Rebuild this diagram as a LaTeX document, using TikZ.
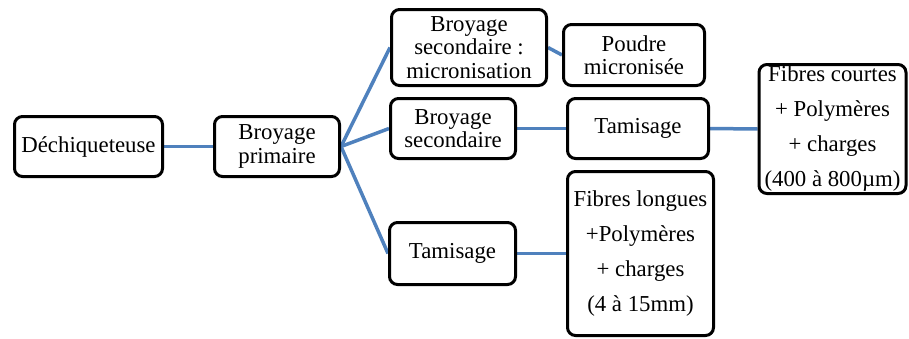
\documentclass[tikz,border=0pt]{standalone}
\usepackage{fontspec}
\setmainfont{Liberation Serif}
\usetikzlibrary{backgrounds}
\definecolor{linkblue}{HTML}{4F81BD}
\begin{document}
\begin{tikzpicture}[x=1pt,y=-1pt,
  box/.style={draw=black, line width=3pt, rounded corners=8pt, fill=white,
    align=center, inner sep=0pt, font=\fontsize{22.8}{23.5}\selectfont},
  tall/.style={font=\fontsize{22.8}{35}\selectfont},
  link/.style={draw=linkblue, line width=3.5pt}]
\useasboundingbox (0,0) rectangle (909,338);
\node[box, minimum width=148, minimum height=60] (dech) at (88.5,146.5) {Déchiqueteuse};
\node[box, minimum width=125, minimum height=60] (bp) at (277,146.5) {Broyage\\primaire};
\node[box, minimum width=155, minimum height=76] (micro) at (469,47.5) {Broyage\\secondaire :\\micronisation};
\node[box, minimum width=141, minimum height=61] (poudre) at (634,55) {Poudre\\micronisée};
\node[box, minimum width=125, minimum height=60] (bs) at (453,128.5) {Broyage\\secondaire};
\node[box, minimum width=141, minimum height=60] (tam1) at (638,128.5) {Tamisage};
\node[box, minimum width=126, minimum height=62] (tam2) at (452.5,253.5) {Tamisage};
\node[box, tall, minimum width=146, minimum height=164] (fl) at (640.5,253.5) {Fibres longues\\+Polymères\\ + charges\\(4 à 15mm)};
\node[box, tall, minimum width=147, minimum height=129] (fc) at (832.5,129) {Fibres courtes\\+ Polymères\\+ charges\\(400 à 800µm)};
\begin{scope}[on background layer]
\draw[link] (dech.east) -- (bp.west);
\draw[link] (bp.east) -- (micro.west);
\draw[link] (bp.east) -- (bs.west);
\draw[link] (bp.east) -- (tam2.west);
\draw[link] (micro.east) -- (poudre.west);
\draw[link] (bs.east) -- (tam1.west);
\draw[link] (tam1.east) -- (fc.west);
\draw[link] (tam2.east) -- (fl.west);
\end{scope}
\end{tikzpicture}
\end{document}
